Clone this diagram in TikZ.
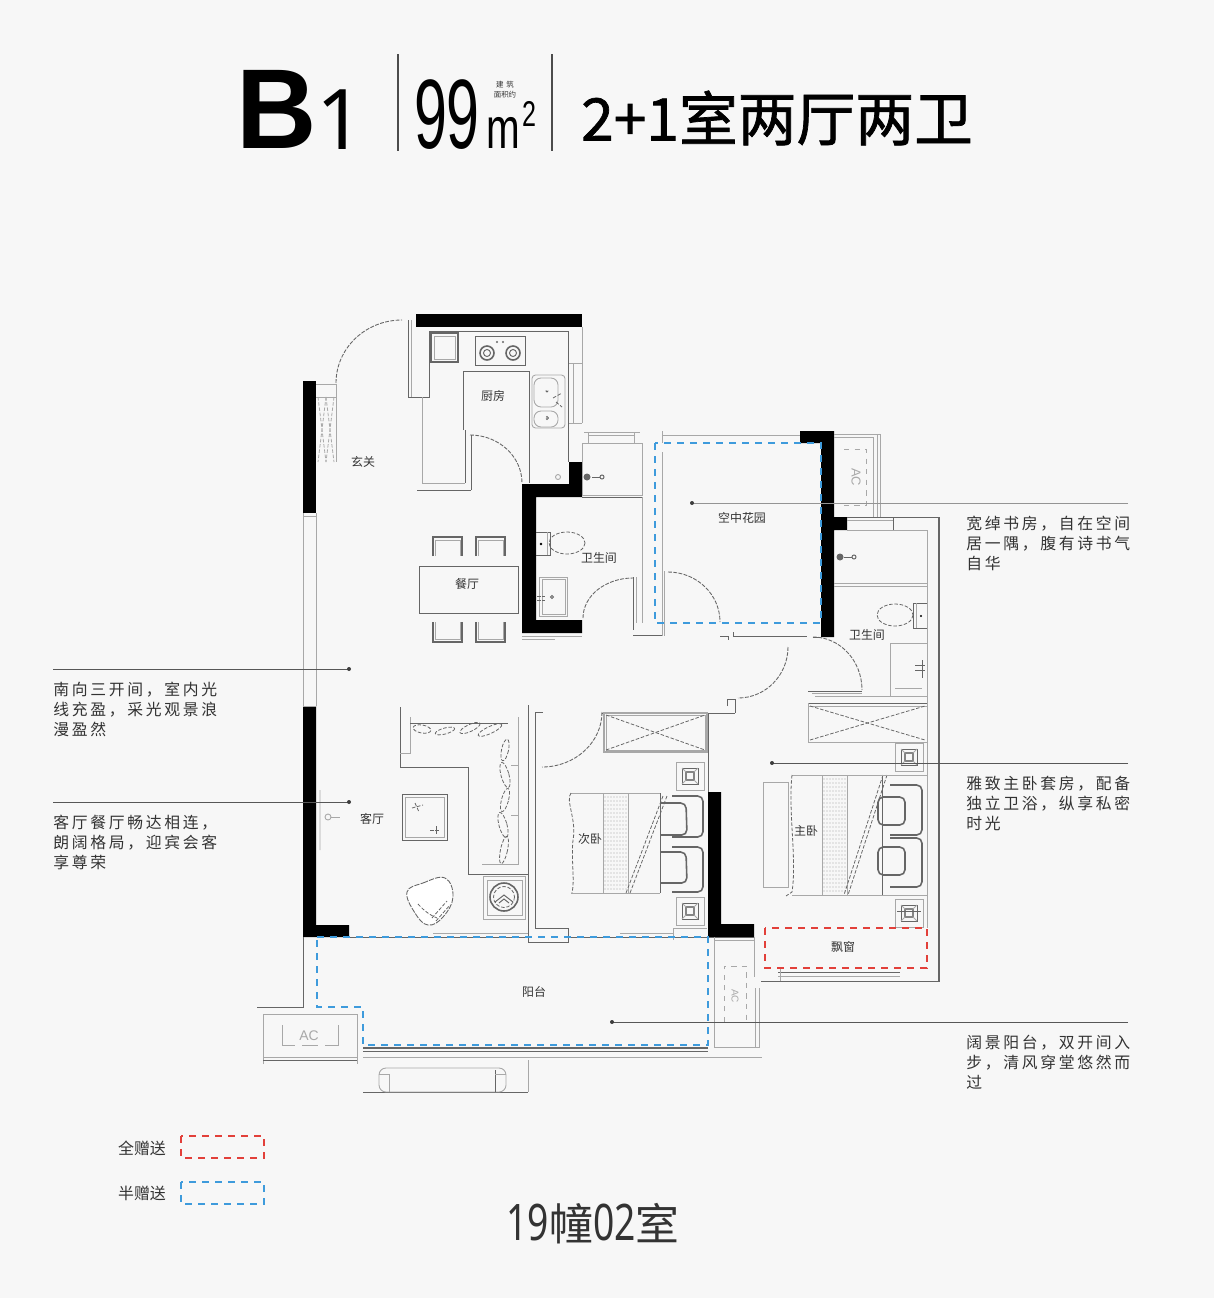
\documentclass[tikz,border=0pt]{standalone}
\usepackage{fontspec}
\usetikzlibrary{calc}
\setmainfont{Noto Sans CJK SC}
\newfontfamily\latinf{Liberation Sans}
\newfontfamily\notof{Noto Sans}
\newfontfamily\titlef[FakeBold=1.2]{Noto Sans CJK SC}
\newfontfamily\annotf[LetterSpace=17]{Noto Sans CJK SC}
\definecolor{bgc}{HTML}{F7F7F7}
\definecolor{linec}{HTML}{666666}
\definecolor{lightc}{HTML}{A8A8A8}
\definecolor{bluec}{HTML}{3E9BDC}
\definecolor{redc}{HTML}{E2403A}
\definecolor{textc}{HTML}{333333}
\newcommand{\fpx}[1]{\pgfmathsetmacro\fpxa{#1*0.5669}\pgfmathsetmacro\fpxb{#1*0.7}\fontsize{\fpxa pt}{\fpxb pt}\selectfont}
\newcommand{\qa}[3]{(#1) .. controls ($(#1)!.5523!(#2)$) and ($(#3)!.5523!(#2)$) .. (#3)}
\newcommand{\leaf}[5]{\draw[dl,rotate around={#5:(#1,#2)}] (#1,#2) ellipse (#3 and #4);}
\newcommand{\nstand}[2]{%
 \draw[ll] ({#1-14},{#2-14}) rectangle ({#1+14},{#2+14});
 \draw[tl] ({#1-8},{#2-8}) rectangle ({#1+8},{#2+8});
 \draw[tl,line width=.9pt,draw=linec!80] ({#1-4},{#2-4}) rectangle ({#1+4},{#2+4});
 \foreach \sx in {-1,1}{\foreach \sy in {-1,1}{\draw[ll] ({#1+\sx*8},{#2+\sy*8}) -- ({#1+\sx*4},{#2+\sy*4});}}
}
\newcommand{\band}[4]{%
 \foreach \bx in {#1,\the\numexpr#1+3\relax,...,#2}{\foreach \by in {#3,\the\numexpr#3+4\relax,...,#4}{\fill[lightc] (\bx,\by) circle (.6);}}
}
\tikzset{
 x=0.02cm,y=-0.02cm,
 wall/.style={fill=black,draw=none},
 tl/.style={draw=linec,line width=.55pt},
 ll/.style={draw=lightc,line width=.5pt},
 dk/.style={draw=linec,line width=.9pt},
 dl/.style={draw=linec,line width=.45pt,dash pattern=on 2pt off 1pt},
 doorarc/.style={draw=linec,line width=.5pt,dash pattern=on 2.2pt off .8pt},
 bluedash/.style={draw=bluec,line width=1.4pt,dash pattern=on 4.2pt off 3.2pt},
 reddash/.style={draw=redc,line width=1.4pt,dash pattern=on 4.2pt off 3.2pt},
 leader/.style={draw=linec!85!black,line width=.55pt},
 ldot/.style={fill=linec!60!black,draw=none},
 room/.style={text=textc,inner sep=0pt,font=\fpx{12}},
 annot/.style={text=textc,inner sep=0pt,align=left,anchor=north west,font=\annotf\fontsize{9pt}{11.34pt}\selectfont},
}
\begin{document}
\begin{tikzpicture}
\useasboundingbox (0,0) rectangle (1214,1298);
\fill[bgc] (0,0) rectangle (1214,1298);

%% ---------- title ----------
\node[inner sep=0pt,xscale=.98,text=black] (tB) at (277,109) {\latinf\bfseries\fpx{114}B};
\node[inner sep=0pt,text=black] (t1) at (340,120) {\notof\fpx{84}1};
\draw[tl,draw=black!70,line width=.8pt] (398,54) -- (398,151);
\draw[tl,draw=black!70,line width=.8pt] (552,54) -- (552,151);
\node[inner sep=0pt,xscale=.6,text=black] (t99) at (447,115) {\latinf\fpx{99}99};
\node[inner sep=0pt,xscale=.7,text=black] (tm) at (503,133) {\latinf\fpx{58}m};
\node[inner sep=0pt,xscale=.7,text=black] (t2) at (529,114) {\latinf\fpx{36}2};
\node[inner sep=0pt,text=textc] (tj1) at (505,85) {\fpx{7.5}建\hspace{1.5pt}筑};
\node[inner sep=0pt,text=textc] (tj2) at (505,95) {\fpx{7.5}面积约};
\node[inner sep=0pt,text=black] (tmain) at (777,118) {\titlef\fpx{59}2+1室两厅两卫};

%% ---------- walls ----------
\fill[wall] (303,381) rectangle (316,513);
\fill[wall] (303,706) -- (316,706) -- (316,925) -- (349,925) -- (349,937) -- (303,937) -- cycle;
\fill[wall] (416,314) rectangle (582,327);
\fill[wall] (569,462) -- (582,462) -- (582,497) -- (536,497) -- (536,620) -- (582,620) -- (582,633) -- (522,633) -- (522,484) -- (569,484) -- cycle;
\fill[wall] (800,431) -- (834,431) -- (834,517) -- (847,517) -- (847,530) -- (834,530) -- (834,637) -- (821,637) -- (821,443) -- (800,443) -- cycle;
\fill[wall] (708,792) -- (721,792) -- (721,924) -- (754,924) -- (754,937) -- (708,937) -- cycle;

%% ---------- entrance / left side ----------
\draw[doorarc] \qa{336,383}{336,320}{402,320};
\draw[tl] (408,320) -- (408,397) -- (429,397) -- (429,332);
\draw[ll] (411,320) -- (411,397);
\draw[ll] (316,513) -- (316,706);
\draw[ll] (303,513) -- (303,706);
\draw[ll] (303,516) -- (316,516);
\draw[ll] (303,706) -- (316,706);
\draw[ll] (316,384) -- (336,384) -- (336,462);
\draw[ll] (316,397) -- (336,397);
\draw[dl,draw=lightc] (318,397) -- (326,462);
\draw[dl,draw=lightc] (334,397) -- (326,462);
\draw[dl,draw=lightc] (326,397) -- (318,462);
\draw[dl,draw=lightc] (326,397) -- (334,462);

%% ---------- kitchen ----------
\draw[tl] (429,331) -- (568,331) -- (568,462);
\draw[ll] (582,327) -- (582,423);
\draw[ll] (569,363) -- (582,363);
\draw[ll] (569,423) -- (582,423);
\draw[ll] (573,363) -- (573,423);
\draw[dk,line width=1.1pt] (431,333) rectangle (458,362);
\draw[ll] (434,336) rectangle (455,359);
\draw[tl] (475,336) rectangle (525,365);
\foreach \cx in {487,513}{
 \draw[dk] (\cx,353) circle (7);
 \draw[tl] (\cx,353) circle (3.5);
}
\fill[linec] (497,342) circle (1.2);
\fill[linec] (503,342) circle (1.2);
\draw[tl] (463,430) -- (463,371) -- (529,371) -- (529,483);
\draw[ll,rounded corners=2pt] (532,375) rectangle (565,428);
\draw[ll,rounded corners=4pt] (534,378) rectangle (558,407);
\draw[ll,rounded corners=4pt] (534,411) rectangle (558,427);
\draw[dl] (553,398) -- (562,393) (556,402) -- (562,407) (547,391) circle (1) (547,418) circle (1.5);
\draw[ll] (558,477) circle (2.5);
\draw[doorarc] \qa{470,435}{522,435}{522,483};
\draw[tl] (465,430) -- (465,483);
\draw[tl] (471,435) -- (471,490);
\draw[ll] (422,397) -- (422,483) -- (465,483);
\draw[tl] (417,490) -- (471,490);

%% ---------- dining ----------
\draw[tl] (419,566) rectangle (518,613);
\foreach \cx in {433,476}{
 \draw[dk] (\cx,556) -- (\cx,537) -- (\cx+29,537) -- (\cx+29,556);
 \draw[ll] (\cx+2,556) -- (\cx+2,540) -- (\cx+27,540) -- (\cx+27,556);
 \draw[dk] (\cx,622) -- (\cx,642) -- (\cx+29,642) -- (\cx+29,622);
 \draw[ll] (\cx+2,622) -- (\cx+2,639) -- (\cx+27,639) -- (\cx+27,622);
}

%% ---------- central bathroom ----------
\draw[ll] (582,443) rectangle (642,495);
\draw[tl] (582,497) -- (642,497);
\draw[ll] (642,497) -- (642,623);
\draw[ll] (588,432) -- (588,443) (634,432) -- (634,443);
\draw[ll] (588,435) -- (634,435);
\draw[ll] (584,432) -- (640,432);
\fill[linec] (587,477) circle (3.5);
\draw[tl] (592,477) -- (600,477);
\draw[tl] (602,477) circle (2);
\draw[tl] (536,532) -- (550,532) -- (550,555) -- (536,555);
\draw[ll] (547,532) -- (547,555);
\draw[dl] (567,543) ellipse (18 and 11);
\fill[black] (541,544) circle (1.3);
\draw[ll] (539,577) rectangle (567,616);
\draw[ll] (542,579) rectangle (565,614);
\draw[dl] (537,596) -- (545,596) (537,600) -- (545,600);
\draw[tl] (552,597) circle (1.5);
\draw[doorarc] \qa{583,618}{583,578}{633,578};
\draw[tl] (633,577) -- (633,630);
\draw[ll] (636,577) -- (636,623);
\draw[tl] (633,635) -- (662,635);
\draw[ll] (522,636) -- (582,636);
\draw[ll] (522,639) -- (555,639);

%% ---------- sky garden ----------
\draw[ll] (662,435) -- (800,435);
\draw[ll] (662,431) -- (662,443);
\draw[ll] (662,452) -- (662,636);
\draw[ll] (664,571) -- (664,636);
\draw[doorarc] \qa{668,572}{720,572}{720,622};
\draw[tl] (733,636) -- (733,632) (720,636) -- (728,636) -- (728,640);
\draw[tl] (733,636) -- (807,636);
\draw[tl] (813,637) -- (821,637);
\draw[doorarc] \qa{788,647}{788,698}{738,698};
\draw[tl] (727,706) -- (727,699) -- (735,699) -- (735,713);
\draw[tl] (602,713) -- (735,713);

%% ---------- AC top right ----------
\draw[ll] (834,434) -- (880,434) -- (880,517);
\draw[ll] (834,437) -- (873,437) -- (873,517);
\draw[ll] (877,434) -- (877,517);
\draw[ll,dashed] (844,449) -- (866,449) -- (866,505) -- (844,505);
\node[rotate=-90,inner sep=0pt,text=lightc] (acA) at (856,477) {\latinf\fpx{13}AC};

%% ---------- right-side bathroom ----------
\draw[tl] (847,517) -- (939,517);
\draw[ll] (847,520) -- (893,520);
\draw[tl] (893,517) -- (893,530);
\draw[ll] (847,530) -- (927,530);
\draw[tl,line width=.7pt] (939,517) -- (939,982);
\draw[ll] (927,530) -- (927,928);
\draw[ll] (834,583) -- (927,583);
\draw[ll] (834,586) -- (927,586);
\fill[linec] (840,557) circle (3.5);
\draw[tl] (844,557) -- (852,557);
\draw[tl] (854,557) circle (2);
\draw[dl] (895,615) ellipse (18 and 11);
\draw[tl] (927,603) -- (913,603) -- (913,628) -- (927,628);
\draw[ll] (916,603) -- (916,628);
\fill[black] (921,616) circle (1.2);
\draw[ll] (890,696) -- (890,643) -- (927,643);
\draw[ll] (895,688) -- (922,688);
\draw[tl] (922,660) -- (922,678);
\draw[tl] (915,665) -- (925,665) (915,670) -- (925,670);
\draw[doorarc] \qa{813,637}{862,637}{862,690};
\draw[tl] (808,691) -- (862,691);
\draw[ll] (812,693) -- (862,693);
\draw[ll] (815,696) -- (927,696);
%% main wardrobe
\draw[tl] (808,703) -- (927,703);
\draw[ll] (808,706) -- (927,706);
\draw[ll] (808,703) -- (808,742) -- (927,742);
\draw[dl] (810,706) -- (925,740);
\draw[dl] (810,740) -- (925,706);
%% second wardrobe
\draw[ll,line width=.8pt] (604,713) rectangle (707,752);
\draw[ll] (606,715) rectangle (705,750);
\draw[dl] (606,715) -- (705,750);
\draw[dl] (606,750) -- (705,715);
\draw[tl] (708,713) -- (708,792);
\draw[doorarc] \qa{602,712}{602,767}{542,767};

%% ---------- living room ----------
\draw[tl] (400,707) -- (400,767) -- (468,767) -- (468,874) -- (528,874);
\draw[ll] (400,753) -- (410,753) -- (410,717);
\draw[tl] (410,723) -- (508,723);
\draw[ll] (518,717) -- (518,864) -- (482,864);
\draw[ll] (511,765) -- (518,765) (511,815) -- (518,815);
\draw[tl] (528,705) -- (528,942) -- (568,942) -- (568,928) -- (535,928) -- (535,712) -- (543,712);
\leaf{422}{729}{9}{4}{-10}
\leaf{445}{731}{10}{3}{15}
\leaf{470}{728}{11}{3.5}{25}
\leaf{490}{730}{13}{3.5}{25}
\leaf{505}{750}{3.5}{11}{-12}
\leaf{505}{775}{4}{13}{15}
\leaf{505}{800}{3.5}{12}{-15}
\leaf{503}{825}{4}{13}{15}
\leaf{504}{850}{3.5}{14}{-12}
\draw[tl] (402,794) rectangle (447,840);
\draw[ll] (405,797) rectangle (444,837);
\draw[dl] (412,808) -- (423,805) (415,803) -- (419,812);
\draw[dl] (430,830) -- (440,830) (436,826) -- (436,834);
\draw[ll] (328,817) circle (3) (320,790) -- (320,850);
\draw[ll] (331,817) -- (340,817);
\filldraw[fill=white,draw=linec,line width=.5pt,dash pattern=on 3pt off .7pt] plot[smooth cycle,tension=.7] coordinates {(407,892) (423,883) (445,878) (453,897) (443,917) (428,925) (415,913)};
\draw[dl] (418,904) .. controls (425,912) and (432,916) .. (437,918);
\draw[dl] (432,918) -- (447,901) (436,921) -- (450,905);
\draw[ll] (483,876) rectangle (525,919);
\draw[ll] (487,880) rectangle (522,915);
\draw[dk] (504,897) circle (14);
\draw[dl] (504,897) circle (10.5);
\draw[tl] (495,902) -- (504,895) -- (513,902);
\draw[tl] (499,903) -- (504,899) -- (509,903);

%% ---------- second bedroom ----------
\draw[ll] (571,793) -- (660,793) (571,893) -- (660,893);
\draw[dl] (571,793) .. controls (565,800) and (577,820) .. (573,840) .. controls (571,860) and (575,880) .. (572,893);
\draw[tl] (660,793) -- (660,893);
\draw[ll] (603,793) -- (603,893) (628,793) -- (628,893);
\band{605}{627}{797}{889}
\draw[dl] (667,796) -- (630,893);
\draw[dl] (663,796) -- (626,893);
\draw[dk,rounded corners=3pt] (672,796) -- (703,796) -- (703,837) -- (672,837);
\draw[dk,rounded corners=3pt] (672,847) -- (703,847) -- (703,892) -- (672,892);
\draw[dk,rounded corners=3pt] (660,803) -- (686,803) -- (687,835) -- (660,835);
\draw[dk,rounded corners=3pt] (660,852) -- (686,852) -- (687,883) -- (660,883);
\nstand{690}{776}
\nstand{690}{911}

%% ---------- bottom of rooms ----------
\draw[ll] (433,933) -- (528,933);
\draw[tl] (349,937) -- (528,937);
\draw[tl] (568,937) -- (708,937);
\draw[ll] (620,933) -- (673,933);
\draw[ll] (673,928) -- (707,928);
\draw[ll] (673,928) -- (673,940);

%% ---------- master bedroom ----------
\draw[ll] (792,775) -- (882,775) (792,895) -- (882,895);
\draw[dl] (792,775) .. controls (788,810) and (797,860) .. (792,892) -- (786,896);
\draw[tl] (882,775) -- (882,895);
\draw[ll] (822,775) -- (822,895) (847,775) -- (847,895);
\band{824}{846}{779}{891}
\draw[dl] (887,775) -- (848,895);
\draw[dl] (883,775) -- (844,895);
\draw[ll] (763,887) -- (763,782) -- (788,782) -- (788,887) -- cycle;
\draw[dk,rounded corners=3pt] (890,785) -- (922,785) -- (922,835) -- (890,835);
\draw[dk,rounded corners=3pt] (890,838) -- (922,838) -- (922,887) -- (890,887);
\draw[dk,rounded corners=3pt] (878,797) -- (905,797) -- (905,825) -- (878,825) -- cycle;
\draw[dk,rounded corners=3pt] (878,847) -- (905,847) -- (905,875) -- (878,875) -- cycle;
\draw[ll] (882,775) -- (927,775);
\draw[ll] (882,895) -- (927,895);
\nstand{909}{757}
\nstand{909}{913}
\draw[tl] (897,911) -- (921,911);

%% ---------- bay window / lower right ----------
\draw[tl] (778,972) -- (900,972);
\draw[ll] (778,976) -- (900,976);
\draw[tl] (761,981) -- (939,981);
\draw[ll] (780,969) -- (780,981);
\draw[ll] (754,937) -- (754,977);
\draw[tl] (708,937) -- (754,937);
\draw[ll] (714,940) -- (754,940);
\draw[ll] (714,937) -- (714,1047) -- (760,1047);
\draw[ll] (755,988) -- (755,1047);
\draw[ll] (759,988) -- (759,1047);
\draw[ll,dashed] (724,1022) -- (724,966) -- (746,966) -- (746,1022);
\node[rotate=-90,inner sep=0pt,text=lightc] (acB) at (735,996) {\latinf\fpx{10}AC};

%% ---------- balcony ----------
\draw[tl] (303,937) -- (303,1007) -- (257,1007);
\draw[ll] (263,1064) -- (263,1014) -- (357,1014) -- (357,1064);
\draw[ll] (263,1057) -- (357,1057);
\draw[tl] (263,1060) -- (357,1060);
\draw[ll] (282,1025) -- (282,1045) -- (295,1045) (302,1045) -- (318,1045) (325,1045) -- (338,1045) -- (338,1025);
\node[inner sep=0pt,text=lightc] (acC) at (309,1036) {\latinf\fpx{14}AC};
\draw[tl,line width=.8pt] (363,1048) -- (708,1048);
\draw[tl] (363,1051) -- (708,1051);
\draw[ll] (363,1057) -- (762,1057);
\draw[ll] (528,1060) -- (528,1092);
\draw[tl] (363,1092) -- (528,1092);
\draw[ll,rounded corners=4pt] (379,1068) rectangle (506,1092);
\draw[ll] (389,1075) -- (389,1092);
\draw[tl] (495,1070) -- (495,1092);
\draw[ll] (379,1074) -- (390,1074) (495,1074) -- (506,1074);

%% ---------- dashed gift areas ----------
\draw[bluedash] (655,443) rectangle (821,623);
\draw[bluedash] (317,937) -- (708,937) -- (708,1045) -- (363,1045) -- (363,1007) -- (317,1007) -- cycle;
\draw[reddash] (765,928) rectangle (927,968);

%% ---------- room labels ----------
\node[room] (rA) at (363,462) {玄关};
\node[room] (rB) at (493,396) {厨房};
\node[room] (rC) at (467,584) {餐厅};
\node[room] (rD) at (599,558) {卫生间};
\node[room] (rE) at (742,518) {空中花园};
\node[room] (rF) at (867,635) {卫生间};
\node[room] (rG) at (372,819) {客厅};
\node[room] (rH) at (590,839) {次卧};
\node[room] (rI) at (806,831) {主卧};
\node[room] (rJ) at (843,947) {飘窗};
\node[room] (rK) at (534,992) {阳台};

%% ---------- leaders ----------
\coordinate (la) at (53,669);  \coordinate (lad) at (349,669);
\coordinate (lb) at (53,802);  \coordinate (lbd) at (349,802);
\coordinate (lc) at (1128,503);\coordinate (lcd) at (692,503);
\coordinate (ld) at (1128,763);\coordinate (ldd) at (772,763);
\coordinate (le) at (1128,1022);\coordinate (led) at (612,1022);
\draw[leader] (la) -- (lad);
\draw[leader] (lb) -- (lbd);
\draw[leader,draw=linec!70] (lc) -- (lcd);
\draw[leader] (ld) -- (ldd);
\draw[leader] (le) -- (led);
\foreach \d in {lad,lbd,lcd,ldd,led}{\fill[ldot] (\d) circle (2);}

%% ---------- annotations ----------
\node[annot] (a1) at (53,681.5) {南向三开间，室内光\\线充盈，采光观景浪\\漫盈然};
\node[annot] (a2) at (53,814.5) {客厅餐厅畅达相连，\\朗阔格局，迎宾会客\\享尊荣};
\node[annot] (a3) at (966,515.5) {宽绰书房，自在空间\\居一隅，腹有诗书气\\自华};
\node[annot] (a4) at (966,775.5) {雅致主卧套房，配备\\独立卫浴，纵享私密\\时光};
\node[annot] (a5) at (966,1034.5) {阔景阳台，双开间入\\步，清风穿堂悠然而\\过};

%% ---------- legend ----------
\node[inner sep=0pt,text=textc] (g1) at (142,1148) {\fpx{16}全赠送};
\node[inner sep=0pt,text=textc] (g2) at (142,1193) {\fpx{16}半赠送};
\draw[reddash] (181,1136) rectangle (264,1158);
\draw[bluedash] (181,1182) rectangle (264,1204);

%% ---------- footer ----------
\node[inner sep=0pt,text=textc] (foot) at (593,1224) {\fpx{44}\scalebox{.85}[1.15]{\notof 19}幢\scalebox{.85}[1.15]{\notof 02}室};
\end{tikzpicture}
\end{document}
